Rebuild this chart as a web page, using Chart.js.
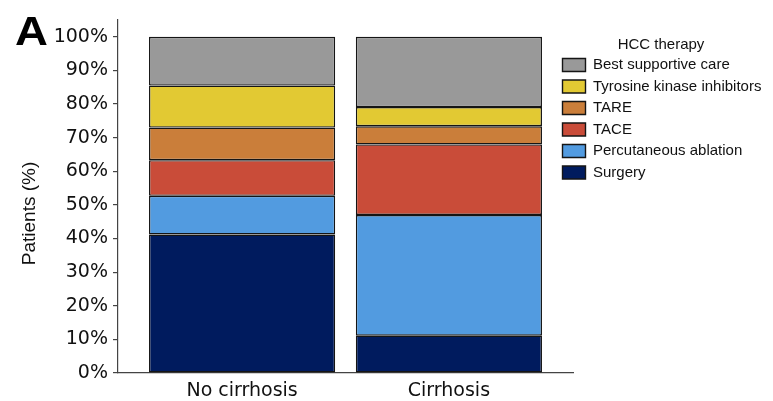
<!DOCTYPE html>
<html>
<head>
<meta charset="utf-8">
<script src="https://cdn.jsdelivr.net/npm/chart.js@4/dist/chart.umd.min.js"></script>
<style>
  html, body { margin: 0; padding: 0; background: #fff; }
  #wrap { position: relative; width: 773px; height: 401px; }
  #panel { position: absolute; left: 15px; top: 11px; font: bold 40px "Liberation Sans", Arial, sans-serif; line-height: 40px; color: #000; transform: scaleX(1.14); transform-origin: left top; }
</style>
</head>
<body>
<div id="wrap">
  <canvas id="c" width="773" height="401"></canvas>
  <div id="panel">A</div>
</div>
<script>
// ---- data (percent of patients) ----
const categories = ['No cirrhosis', 'Cirrhosis'];
const surgery      = [41.2, 11.1];
const percAblation = [11.5, 35.9];
const tace         = [10.6, 21.0];
const tare         = [9.7, 5.4];
const tki          = [12.5, 5.7];
const bsc          = [14.5, 20.9];
const yTicks = [0, 10, 20, 30, 40, 50, 60, 70, 80, 90, 100];
const legendTitle = 'HCC therapy';
const yTitle = 'Patients (%)';

const seriesDefs = [
  { label: 'Surgery', values: surgery, color: '#001B5E' },
  { label: 'Percutaneous ablation', values: percAblation, color: '#529BE0' },
  { label: 'TACE', values: tace, color: '#C94C39' },
  { label: 'TARE', values: tare, color: '#CA7E3A' },
  { label: 'Tyrosine kinase inhibitors', values: tki, color: '#E2C933' },
  { label: 'Best supportive care', values: bsc, color: '#999999' }
];

const datasets = seriesDefs.map(s => ({
  label: s.label,
  data: categories.map((c, i) => ({ x: i + 1, y: s.values[i] })),
  backgroundColor: s.color,
  borderColor: '#151515',
  borderWidth: 1.4,
  borderSkipped: false,
  categoryPercentage: 1.0,
  barPercentage: 0.9
}));

// legend sits above the empty right part of the plot; y title sits a little low, as in the reference
const layoutTweaks = {
  id: 'layoutTweaks',
  afterLayout(chart) {
    const lg = chart.legend;
    if (lg) {
      lg.left = 556;
      lg.width = 210;
      lg.right = lg.left + lg.width;
    }
    const ys = chart.scales.y;
    if (!ys._titleShifted) {
      const orig = ys.drawTitle;
      ys.drawTitle = function () {
        this.top += 17; this.bottom += 17;
        orig.call(this);
        this.top -= 17; this.bottom -= 17;
      };
      ys._titleShifted = true;
    }
  }
};

new Chart(document.getElementById('c'), {
  type: 'bar',
  data: { datasets },
  plugins: [layoutTweaks],
  options: {
    responsive: false,
    animation: false,
    layout: { padding: { left: 18, top: 20, right: 15, bottom: 0 } },
    scales: {
      x: {
        type: 'linear',
        stacked: true,
        offset: false,
        min: 0.4,
        max: 2.6,
        afterBuildTicks: s => { s.ticks = categories.map((c, i) => ({ value: i + 1 })); },
        afterFit: s => { s.height = 28; },
        grid: { display: false, drawTicks: false, offset: false },
        border: { display: true, color: '#444', width: 1.2 },
        ticks: {
          padding: 7,
          color: '#111',
          font: { family: '"DejaVu Sans"', size: 19 },
          callback: v => categories[Math.round(v) - 1] || ''
        }
      },
      y: {
        stacked: true,
        min: 0,
        max: 105,
        afterBuildTicks: s => { s.ticks = yTicks.map(v => ({ value: v })); },
        afterFit: s => { s.width = 100; },
        grid: { drawOnChartArea: false, drawTicks: true, tickLength: 5, color: '#444', lineWidth: 1.2 },
        border: { display: true, color: '#444', width: 1.2 },
        ticks: {
          padding: 5,
          color: '#111',
          font: { family: '"DejaVu Sans"', size: 19 },
          callback: v => v + '%'
        },
        title: {
          display: true,
          text: yTitle,
          color: '#111',
          padding: { top: 0, bottom: 0 },
          font: { family: '"Liberation Sans"', size: 19 }
        }
      }
    },
    plugins: {
      tooltip: { enabled: false },
      legend: {
        position: 'right',
        align: 'start',
        reverse: true,
        title: {
          display: true,
          text: legendTitle,
          position: 'center',
          color: '#111',
          padding: { top: 17.5, bottom: 0 },
          font: { family: '"Liberation Sans"', size: 15, lineHeight: 0.9 }
        },
        labels: {
          boxWidth: 23,
          boxHeight: 13,
          padding: 6.5,
          color: '#111',
          font: { family: '"Liberation Sans"', size: 15 }
        }
      }
    }
  }
});
</script>
</body>
</html>
